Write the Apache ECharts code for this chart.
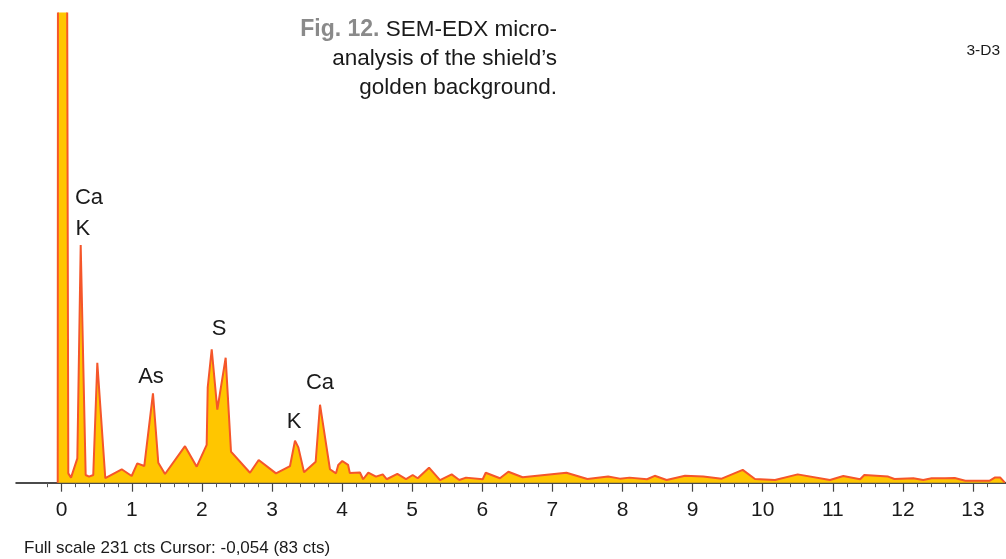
<!DOCTYPE html>
<html>
<head>
<meta charset="utf-8">
<title>SEM-EDX</title>
<script src="https://cdn.jsdelivr.net/npm/echarts@6/dist/echarts.min.js"></script>
<style>
    html, body { margin: 0; padding: 0; background: #fff; }
    #spectrum { width: 1006px; height: 559px; }
</style>
</head>
<body>
<div id="spectrum"></div>
<script>
    // energie (keV) en tellingen
    var energy = [-0.057, -0.05, 0.06, 0.094, 0.133, 0.223, 0.271, 0.342, 0.39, 0.45,
        0.508, 0.622, 0.856, 0.998, 1.078, 1.178, 1.302, 1.378, 1.474, 1.759,
        1.926, 2.068, 2.083, 2.14, 2.22, 2.339, 2.415, 2.686, 2.81, 3.057,
        3.257, 3.328, 3.376, 3.457, 3.623, 3.685, 3.827, 3.913, 3.945, 4.003,
        4.085, 4.11, 4.255, 4.3, 4.374, 4.484, 4.58, 4.636, 4.788, 4.912,
        5.007, 5.079, 5.24, 5.397, 5.563, 5.672, 5.768, 6.006, 6.049, 6.252,
        6.372, 6.575, 7.2, 7.5, 7.795, 7.964, 8.1, 8.35, 8.46, 8.63,
        8.892, 9.153, 9.415, 9.715, 9.89, 10.176, 10.499, 10.96, 11.15, 11.39,
        11.45, 11.79, 11.88, 12.15, 12.29, 12.41, 12.6, 12.62, 12.74, 12.89,
        13.24, 13.31, 13.39, 13.455];
    var counts = [0, 500, 500, 4.6, 2.5, 12, 117, 3.8, 3, 3.8,
        59, 2.2, 6.6, 3.3, 9.5, 8.2, 44, 9.8, 4.3, 18,
        7.9, 18.6, 47, 65.7, 36, 61.5, 15.3, 4.9, 11.2, 4.6,
        8.2, 20.7, 17.4, 5.1, 10.3, 38.4, 6.6, 4.6, 8.7, 10.7,
        8.8, 4.8, 5, 1.7, 5, 3, 4.1, 1.7, 4.3, 1.8,
        3.8, 2.2, 7.4, 1.3, 4.1, 1.3, 2.5, 1.7, 4.9, 2.2,
        5.4, 2.7, 4.9, 1.8, 3, 2, 2.5, 1.7, 3.4, 1.3,
        3.4, 3, 2, 6.3, 1.8, 1.3, 4.1, 1.3, 3.3, 1.7,
        3.8, 3, 1.8, 2.2, 1.3, 2.2, 2.2, 1.3, 2.3, 1,
        1, 2.5, 2.5, 0];

    // elementlabels bij de pieken
    var peakNames = ['Ca', 'K', 'As', 'S', 'K', 'Ca'];
    var peakX = [0.39, 0.3, 1.274, 2.244, 3.314, 3.685];
    var peakY = [140, 125, 52, 75.7, 29.9, 49.1];

    var majorTicks = [0, 1, 2, 3, 4, 5, 6, 7, 8, 9, 10, 11, 12, 13];
    var fullScale = 231;

    var minorTicks = [];
    for (var t = -1; t <= 66; t++) {
        if (t % 5 !== 0) minorTicks.push(Math.round(t * 0.2 * 10) / 10);
    }

    var font = 'Liberation Sans, Arial, Helvetica, sans-serif';
    var chart = echarts.init(document.getElementById('spectrum'));

    chart.setOption({
        animation: false,
        textStyle: { fontFamily: font },
        graphic: [{
            type: 'text',
            x: 557,
            y: 15,
            style: {
                text: '{fig|Fig. 12.} SEM-EDX micro-\nanalysis of the shield\u2019s\ngolden background.',
                align: 'right',
                verticalAlign: 'top',
                font: '22.5px ' + font,
                fill: '#1a1a1a',
                lineHeight: 29,
                rich: {
                    fig: { fontFamily: font, fontSize: 23, fontWeight: 'bold', fill: '#8a8a8a', lineHeight: 29 }
                }
            }
        }],
        title: [{
            text: '3-D3',
            right: 1,
            top: 38,
            textStyle: { fontFamily: font, fontSize: 15.5, fontWeight: 'normal', color: '#1a1a1a' }
        }, {
            text: 'Full scale 231 cts Cursor: -0,054 (83 cts)',
            left: 19,
            top: 535,
            textStyle: { fontFamily: font, fontSize: 17, fontWeight: 'normal', color: '#1a1a1a' }
        }],
        grid: {
            left: 16,
            right: 0,
            top: 13.5,
            bottom: 76.3
        },
        xAxis: [{
            type: 'value',
            position: 'bottom',
            min: -0.652,
            max: 13.471,
            splitLine: { show: false },
            axisLine: { show: true, onZero: false, lineStyle: { color: '#111', width: 1.5 } },
            axisTick: { show: true, customValues: majorTicks, length: 9, lineStyle: { color: '#444', width: 1.2 } },
            axisLabel: {
                customValues: majorTicks,
                margin: 17,
                fontSize: 21,
                fontFamily: font,
                color: '#1a1a1a'
            }
        }, {
            // alleen de kleine streepjes
            type: 'value',
            position: 'bottom',
            min: -0.652,
            max: 13.471,
            splitLine: { show: false },
            axisLine: { show: false },
            axisTick: { show: true, customValues: minorTicks, length: 4.5, lineStyle: { color: '#555', width: 1 } },
            axisLabel: { show: false }
        }],
        yAxis: {
            type: 'value',
            min: 0,
            max: fullScale,
            show: false,
            splitLine: { show: false }
        },
        series: [{
            name: 'EDX',
            type: 'line',
            xAxisIndex: 0,
            clip: true,
            symbol: 'none',
            smooth: false,
            data: energy.map(function (e, i) { return [e, counts[i]]; }),
            lineStyle: { color: '#F5562A', width: 2 },
            areaStyle: { color: '#FFC600', opacity: 1 },
            markPoint: {
                symbol: 'rect',
                symbolSize: 1,
                itemStyle: { color: 'rgba(0,0,0,0)' },
                label: {
                    show: true,
                    position: 'inside',
                    fontSize: 22,
                    fontFamily: font,
                    color: '#1a1a1a',
                    formatter: function (p) { return p.name; }
                },
                data: peakNames.map(function (n, i) {
                    return { name: n, coord: [peakX[i], peakY[i]] };
                })
            }
        }]
    });
</script>
</body>
</html>
